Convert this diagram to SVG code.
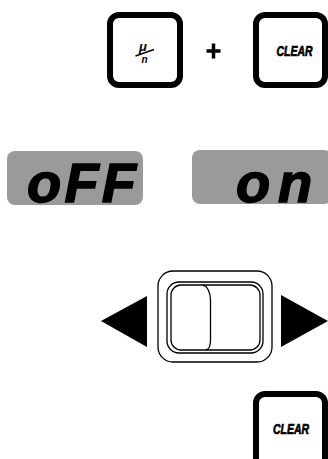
<svg xmlns="http://www.w3.org/2000/svg" width="328" height="459" viewBox="0 0 328 459">
<style>
.key{fill:#fff;stroke:#000;stroke-width:6}
.lbl{font-family:"Liberation Sans",Arial,sans-serif;font-weight:bold;font-style:italic;fill:#000}
.disp{fill:#9a9a9a}
.big{font-family:"Liberation Sans",Arial,sans-serif;font-weight:bold;font-style:italic;font-size:56px;fill:#000;stroke:#000;stroke-width:1.5}
.thin{fill:none;stroke:#000;stroke-width:1.3}
</style>
<rect width="328" height="459" fill="#fff"/>
<g id="key-mu">
<rect class="key" x="110" y="15" width="70" height="70" rx="9"/>
<text class="lbl" x="143" y="50.5" font-size="13" text-anchor="middle" font-style="normal">μ</text>
<line x1="135.5" y1="56" x2="154" y2="49.5" stroke="#000" stroke-width="1.4"/>
<text class="lbl" x="144.5" y="63" font-size="10" text-anchor="middle">n</text>
</g>
<g id="plus">
<path d="M206.5 51 H220.5 M213.5 43.5 V58.5" stroke="#000" stroke-width="3.5" fill="none"/>
</g>
<g id="key-clear-1">
<rect class="key" x="256" y="15" width="69" height="70" rx="9"/>
<text class="lbl" x="294.5" y="56" font-size="14" text-anchor="middle" textLength="36" lengthAdjust="spacingAndGlyphs" stroke="#000" stroke-width="0.7">CLEAR</text>
</g>
<g id="display-off">
<rect class="disp" x="7" y="151" width="136" height="54" rx="8"/>
<text class="big" x="27" y="202" textLength="109" lengthAdjust="spacing">oFF</text>
</g>
<g id="display-on">
<rect class="disp" x="192" y="150" width="140" height="54" rx="8"/>
<text class="big" x="236" y="202">o</text>
<text class="big" x="278" y="202">n</text>
</g>
<g id="switch">
<rect class="thin" x="158" y="271" width="114" height="91" rx="15"/>
<rect class="thin" x="167" y="282" width="96" height="71" rx="12"/>
<rect class="thin" x="171" y="285" width="89" height="65" rx="10"/>
<path class="thin" d="M203 285 Q210 287 210.5 300 L210.5 340 Q210.5 349 206 350"/>
</g>
<g id="arrows">
<polygon points="101,321 147,296 147,347" fill="#000"/>
<polygon points="281,295 281,347 328,321" fill="#000"/>
</g>
<g id="key-clear-2">
<rect class="key" x="256" y="394" width="69" height="80" rx="9"/>
<text class="lbl" x="291" y="434" font-size="14" text-anchor="middle" textLength="36" lengthAdjust="spacingAndGlyphs" stroke="#000" stroke-width="0.7">CLEAR</text>
</g>
</svg>
